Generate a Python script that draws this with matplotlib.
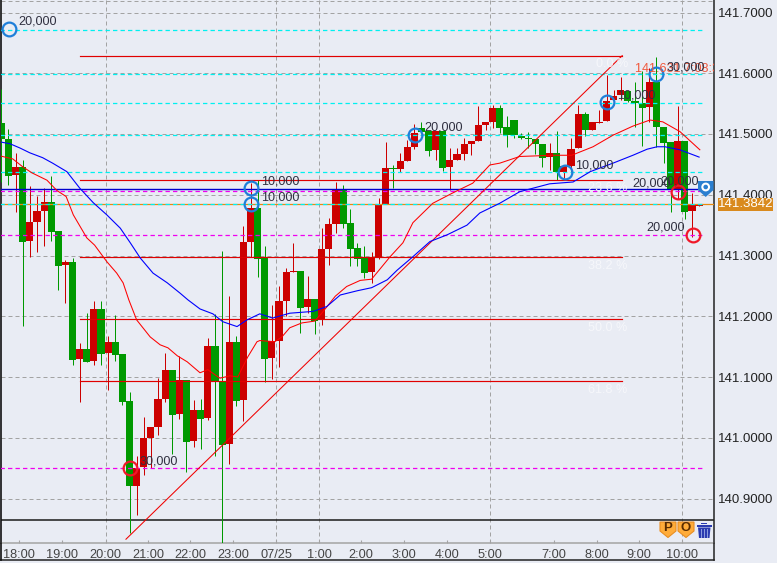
import matplotlib
matplotlib.use("Agg")
import matplotlib.pyplot as plt
from matplotlib.lines import Line2D
from matplotlib.patches import Polygon, Rectangle, Circle
from matplotlib.transforms import Affine2D

plt.rcParams['font.family'] = ['Liberation Sans', 'DejaVu Sans']

opens = [141.518,141.492,141.433,141.446,141.324,141.355,141.373,141.388,141.340,141.285,
 141.289,141.130,141.146,141.127,141.212,141.140,141.158,141.138,141.061,140.921,
 140.952,141.000,141.018,141.064,141.112,141.039,141.095,140.995,141.046,141.033,
 141.151,141.092,140.990,141.158,141.062,141.322,141.378,141.296,141.131,141.160,
 141.225,141.273,141.275,141.216,141.228,141.196,141.311,141.352,141.408,141.354,
 141.312,141.296,141.273,141.296,141.385,141.444,141.442,141.456,141.479,141.510,
 141.505,141.474,141.505,141.446,141.457,141.467,141.484,141.489,141.515,141.520,
 141.543,141.512,141.523,141.497,141.493,141.492,141.484,141.462,141.469,141.438,
 141.447,141.477,141.533,141.507,141.518,141.521,141.556,141.564,141.571,141.554,
 141.551,141.545,141.586,141.512,141.487,141.408,141.489,141.373,141.382]
highs = [141.574,141.508,141.469,141.457,141.414,141.398,141.411,141.431,141.340,141.293,
 141.296,141.156,141.205,141.225,141.225,141.168,141.202,141.138,141.075,140.970,
 141.034,141.018,141.099,141.140,141.112,141.135,141.095,141.062,141.064,141.164,
 141.204,141.308,141.233,141.168,141.349,141.419,141.424,141.316,141.219,141.250,
 141.280,141.321,141.275,141.266,141.228,141.345,141.362,141.421,141.416,141.377,
 141.321,141.315,141.306,141.395,141.487,141.449,141.469,141.490,141.517,141.520,
 141.505,141.505,141.505,141.477,141.477,141.494,141.489,141.546,141.520,141.548,
 141.548,141.530,141.523,141.502,141.504,141.492,141.484,141.485,141.505,141.447,
 141.493,141.548,141.536,141.520,141.540,141.597,141.572,141.594,141.571,141.586,
 141.603,141.609,141.627,141.512,141.487,141.546,141.489,141.403,141.384]
lows = [141.421,141.416,141.372,141.184,141.298,141.305,141.316,141.324,141.243,141.222,
 141.120,141.059,141.124,141.120,141.120,141.078,141.127,141.054,140.844,140.873,
 140.939,140.950,141.005,141.059,140.973,141.031,140.943,140.985,140.982,141.029,
 140.970,140.827,140.957,141.052,141.028,141.298,141.265,141.091,141.097,141.117,
 141.200,141.273,141.173,141.205,141.171,141.186,141.284,141.337,141.346,141.282,
 141.282,141.263,141.255,141.294,141.385,141.411,141.438,141.456,141.475,141.502,
 141.464,141.457,141.439,141.408,141.457,141.457,141.465,141.489,141.507,141.510,
 141.502,141.479,141.493,141.492,141.477,141.467,141.446,141.441,141.424,141.428,
 141.436,141.477,141.496,141.507,141.518,141.521,141.548,141.556,141.553,141.512,
 141.480,141.520,141.479,141.453,141.372,141.393,141.360,141.331,141.381]
closes = [141.492,141.431,141.446,141.323,141.355,141.373,141.388,141.339,141.283,141.290,
 141.128,141.146,141.125,141.212,141.138,141.158,141.136,141.059,140.920,140.950,
 141.000,141.018,141.064,141.112,141.038,141.095,140.993,141.046,141.031,141.151,
 141.092,140.988,141.158,141.061,141.323,141.378,141.295,141.130,141.159,141.225,
 141.273,141.275,141.214,141.228,141.192,141.311,141.352,141.408,141.352,141.311,
 141.294,141.271,141.296,141.385,141.444,141.442,141.456,141.479,141.502,141.503,
 141.472,141.505,141.444,141.457,141.467,141.484,141.489,141.515,141.520,141.543,
 141.510,141.498,141.498,141.493,141.492,141.484,141.461,141.468,141.438,141.447,
 141.475,141.533,141.507,141.519,141.520,141.555,141.563,141.572,141.554,141.551,
 141.543,141.586,141.512,141.486,141.408,141.489,141.372,141.383,141.3842]

blue_idx = [-0.2,1.2,2.6,4.0,5.8,7.2,9.2,11.0,12.9,14.8,16.7,18.1,19.5,21.3,23.3,25.1,26.2,27.9,29.7,31.1,33.1,34.5,36.3,38.1,40.5,43.8,45.7,47.6,50.0,52.0,54.2,55.6,57.8,60.2,62.6,65.4,67.2,70.0,72.8,77.0,80.3,82.7,85.9,88.7,90.7,92.1,93.2,95.3,98.0]
blue_val = [141.487,141.484,141.477,141.469,141.461,141.452,141.438,141.411,141.387,141.367,141.345,141.321,141.296,141.271,141.255,141.238,141.227,141.212,141.204,141.191,141.183,141.194,141.204,141.197,141.205,141.208,141.216,141.235,141.242,141.247,141.260,141.276,141.298,141.323,141.334,141.350,141.370,141.386,141.405,141.418,141.421,141.438,141.452,141.465,141.475,141.479,141.479,141.474,141.462]
red_idx = [-0.2,1.6,3.0,4.3,6.4,7.8,9.1,10.1,12.0,13.1,14.8,16.2,17.1,17.9,19.0,20.9,22.3,23.4,24.7,26.1,27.9,29.0,30.7,32.1,33.2,34.6,35.9,36.3,38.4,39.4,40.5,42.2,44.0,45.0,46.9,48.5,50.4,52.0,54.6,56.4,57.8,60.6,63.4,66.2,68.6,70.0,72.8,77.5,80.1,83.1,85.9,88.7,91.1,92.9,95.3,98.1]
red_val = [141.464,141.459,141.446,141.436,141.424,141.407,141.397,141.367,141.329,141.317,141.290,141.271,141.255,141.227,141.194,141.166,141.153,141.148,141.135,141.125,141.107,141.112,141.098,141.102,141.100,141.133,141.158,141.160,141.158,141.166,141.181,141.189,141.192,141.205,141.233,141.249,141.259,141.261,141.298,141.321,141.354,141.386,141.403,141.419,141.449,141.452,141.463,141.465,141.465,141.479,141.498,141.513,141.523,141.520,141.504,141.474]

y_ticks = [140.9,141.0,141.1,141.2,141.3,141.4,141.5,141.6,141.7]
x_tick_pos = [2.51,8.55,14.65,20.63,26.53,32.57,38.61,44.65,50.55,56.59,62.63,68.67,77.65,83.69,89.59,95.63]
x_tick_lab = ['18:00','19:00','20:00','21:00','22:00','23:00','07/25','1:00','2:00','3:00','4:00','5:00','7:00','8:00','9:00','10:00']
v_grid_pos = [14.65,38.61,44.65,68.67,95.63]

cyan_levels = [141.672,141.598,141.551,141.498,141.437,141.384]
magenta_levels = [141.406,141.333,140.950]
blue_level = 141.409
last_price = 141.3842
fib_levels = [141.629,141.425,141.298,141.195,141.093]
fib_labels = ['0.0 %','23.6 %','38.2 %','50.0 %','61.8 %']
trend_x = [17.5,87.2]
trend_y = [140.833,141.629]

blue_marks = [(1.07,141.673),(35.0,141.411),(35.0,141.385),(58.1,141.498),(79.2,141.438),(85.0,141.552),(92.0,141.598)]
red_marks = [(18.06,140.951),(95.1,141.405),(97.1,141.334)]
qty_labels = [('20,000',18.3,22),('10,000',260.7,182),('10,000',260.7,197),('20,000',424,128),('10,000',575,165),
              ('10,000',616.7,96),('30,000',666.7,68),('30,000',139.3,461),('20,000',632.3,184),('20,000',660,182),('20,000',646.7,228)]

BG = '#E9ECF4'; GRID = '#A3A3A3'; RED = '#CC0000'; GREEN = '#009900'
W, H = 777, 563
fig = plt.figure(figsize=(W/100, H/100), dpi=100, facecolor=BG)
ax = fig.add_axes([0.0015, 1-543.3/H, (714.3-1.2)/W, 543.3/H], facecolor=BG)
px = Affine2D().scale(1, -1).translate(0, H)

ax.set_xlim((1.2-1.4)/7.12, (714.3-1.4)/7.12)
ax.set_ylim(141.3+(255.5-543.3)/607.5, 141.3+255.5/607.5)

# grid
dash = (0, (4, 3))
for p in y_ticks:
    ax.axhline(p, color=GRID, lw=0.72, ls=dash, zorder=1)
ax.axhline(141.7195, color=GRID, lw=0.72, ls=dash, zorder=1)
for p in v_grid_pos:
    ax.axvline(p, color=GRID, lw=0.72, ls=dash, zorder=1)

# candles
idx = list(range(len(opens)))
cols = [RED if c >= o else GREEN for o, c in zip(opens, closes)]
ax.vlines(idx, lows, highs, colors=cols, lw=0.72, zorder=3)
ax.bar(idx, [abs(c-o) for o, c in zip(opens, closes)], bottom=[min(o, c) for o, c in zip(opens, closes)],
       width=1.0, color=cols, linewidth=0, antialiased=False, zorder=3)

# levels
xend = (704-1.4)/7.12
ax.axhline(last_price, color='#E88A10', lw=0.9, zorder=3.5)
for p in cyan_levels:
    ax.plot([-0.2, xend], [p, p], color='#00F0F0', lw=0.9, ls=(0, (3.5, 2.5)), zorder=4)
for p in magenta_levels:
    ax.plot([-0.2, xend], [p, p], color='#F000F0', lw=0.9, ls=(0, (3.5, 2.5)), zorder=4)
ax.plot([-0.2, (700-1.4)/7.12], [blue_level]*2, color='#0000CC', lw=1.0, zorder=4)

# fibonacci
for p in fib_levels:
    ax.plot([11.0, 87.1], [p, p], color='#E00000', lw=0.85, zorder=5)
ax.plot(trend_x, trend_y, color='#F00000', lw=0.75, zorder=5)

# moving averages
ax.plot(red_idx, red_val, color='#FF0000', lw=0.75, zorder=6)
ax.plot(blue_idx, blue_val, color='#0000FF', lw=0.8, zorder=6)

# black line over time panel
ax.axhline(141.3+(255.5-520)/607.5, color='#1A1A1A', lw=1.1, zorder=2)

# markers
ax.plot([m[0] for m in blue_marks], [m[1] for m in blue_marks], 'o', ms=9.9, mfc='none', mec='#1F7FD9', mew=1.6, zorder=8)
ax.plot([m[0] for m in red_marks], [m[1] for m in red_marks], 'o', ms=9.9, mfc='none', mec='#F01828', mew=1.6, zorder=8)

# axes furniture
ax.yaxis.tick_right()
ax.set_yticks(y_ticks, [f'{v:.4f}' for v in y_ticks], fontsize=9.5, color='#222222')
ax.tick_params(axis='y', length=0, pad=2.6)
ax.set_xticks(x_tick_pos, x_tick_lab, fontsize=9.2, color='#444444')
ax.tick_params(axis='x', direction='in', length=2, width=0.8, color=GRID, pad=4)
ax.spines['top'].set_visible(False)
ax.spines['left'].set_color('#111111'); ax.spines['left'].set_linewidth(1.2)
ax.spines['right'].set_color('#222222'); ax.spines['right'].set_linewidth(1.1)
ax.spines['bottom'].set_color(GRID); ax.spines['bottom'].set_linewidth(1.1)

# frame under the time panel
fig.add_artist(Line2D([0, 714.3], [560.3, 560.3], color='#222222', lw=1.1, transform=px))
fig.add_artist(Line2D([0.6, 0.6], [543, 560.3], color='#111111', lw=1.2, transform=px))
fig.add_artist(Line2D([714.3, 714.3], [543, 560.3], color='#222222', lw=1.1, transform=px))

# texts
for t, x, y in qty_labels:
    fig.text(x, y, t, transform=px, fontsize=9.1, color='#303040', va='center', ha='left', zorder=4)
fig_y = [64, 187.7, 266, 328.3, 390.3]
fig_x = [595.7, 588, 588, 588, 588]
for t, x, y in zip(fib_labels, fig_x, fig_y):
    fig.text(x, y, t, transform=px, fontsize=9.1, color='#F6F7FB', va='center', ha='left', zorder=4)
tx = fig.text(635, 69, '141.631 7:08:3', transform=px, fontsize=9.1, color='#F0583C', va='center', ha='left', zorder=3)
tx.set_clip_path(Rectangle((0, 0), 714, 563, transform=Affine2D()))

# last-price tag
fig.add_artist(Rectangle((718.3, 197.5), 54.5, 13.5, transform=px, fc='#D98A1E', ec='none', zorder=5))
fig.text(745.5, 204.3, '141.3842', transform=px, fontsize=9.5, color='white', va='center', ha='center', zorder=6)

# pin icon
fig.add_artist(Polygon([(698, 181), (713.5, 181), (713.5, 190), (705.7, 197), (698, 190)], closed=True, transform=px, fc='#2B7FD0', ec='none', zorder=7))
fig.add_artist(Circle((705.7, 187), 4.4, transform=px, fc='white', ec='none', zorder=8))
fig.add_artist(Circle((705.7, 187), 2.3, transform=px, fc='#2B7FD0', ec='none', zorder=9))

# P / O / trash icons
for cx, letter in ((668, 'P'), (686, 'O')):
    fig.add_artist(Polygon([(cx-8, 522), (cx+8, 522), (cx+8, 531), (cx, 537.5), (cx-8, 531)], closed=True, transform=px, fc='#FFAC3A', ec='#E98E22', lw=0.8, zorder=7))
    fig.text(cx, 528, letter, transform=px, fontsize=9.5, fontweight='bold', color='#5A2C00', va='center', ha='center', zorder=8)
fig.add_artist(Rectangle((696.5, 524.5), 15, 2, transform=px, fc='#2A3BB0', ec='none', zorder=7))
fig.add_artist(Rectangle((701, 522.5), 6, 1.5, transform=px, fc='#2A3BB0', ec='none', zorder=7))
fig.add_artist(Polygon([(698, 527.5), (710.5, 527.5), (709.5, 538), (699, 538)], closed=True, transform=px, fc='#2A3BB0', ec='none', zorder=7))
for xs in (701.3, 704.3, 707.3):
    fig.add_artist(Line2D([xs, xs], [529, 537], color='#8FA0E0', lw=0.7, transform=px, zorder=8))

fig.savefig('out.png', dpi=100, facecolor=BG)
